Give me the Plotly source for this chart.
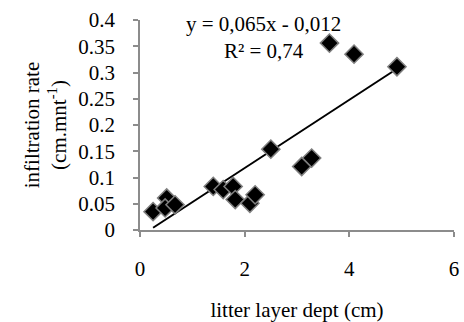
import plotly.graph_objects as go

depth = [0.25, 0.51, 0.48, 0.67, 1.40, 1.59, 1.78, 1.82, 2.10, 2.20, 2.50, 3.09, 3.28, 3.62, 4.09, 4.91]
rate = [0.035, 0.061, 0.042, 0.048, 0.083, 0.077, 0.083, 0.058, 0.051, 0.067, 0.154, 0.121, 0.137, 0.356, 0.335, 0.311]
slope = 0.065
intercept = -0.012
x_ticks = [0, 2, 4, 6]
y_ticks = [0, 0.05, 0.1, 0.15, 0.2, 0.25, 0.3, 0.35, 0.4]
y_labels = ["0", "0.05", "0.1", "0.15", "0.2", "0.25", "0.3", "0.35", "0.4"]

FONT = "Liberation Serif"
FS = 21
x_line = [min(depth), max(depth)]
y_line = [slope * v + intercept for v in x_line]

fig = go.Figure()
fig.add_trace(go.Scatter(x=x_line, y=y_line, mode="lines",
                         line=dict(color="black", width=2), showlegend=False))
fig.add_trace(go.Scatter(x=depth, y=rate, mode="markers",
                         marker=dict(symbol="diamond", size=14, color="black",
                                     line=dict(color="#7f7f7f", width=1.5)),
                         showlegend=False))

axis_common = dict(showgrid=False, zeroline=False, showline=True, linecolor="#8c8c8c",
                   linewidth=1.5, ticks="outside", tickcolor="#8c8c8c", ticklen=5,
                   tickwidth=1.5, automargin=False,
                   tickfont=dict(family=FONT, size=FS, color="black"))

fig.update_xaxes(range=[0, 6], tickvals=x_ticks, ticklabelstandoff=14,
                 title=dict(text="litter layer dept (cm)", font=dict(family=FONT, size=FS, color="black"),
                            standoff=24),
                 **axis_common)
fig.update_yaxes(range=[0, 0.4], tickvals=y_ticks, ticktext=y_labels, ticklabelstandoff=14,
                 title=dict(text="infiltration rate<br>(cm.mnt<sup>-1</sup>)",
                            font=dict(family=FONT, size=FS, color="black"), standoff=6),
                 **axis_common)

fig.add_annotation(xref="x", yref="y", x=(263 - 140) / 52.3, y=(230.3 - 38) / 525.75,
                   text="y = 0,065x - 0,012<br>R² = 0,74", showarrow=False, align="center",
                   font=dict(family=FONT, size=FS, color="black"))

fig.update_layout(width=464, height=322, margin=dict(l=140, r=10, t=20, b=92),
                  plot_bgcolor="white", paper_bgcolor="white")
fig.write_html("out.html")
